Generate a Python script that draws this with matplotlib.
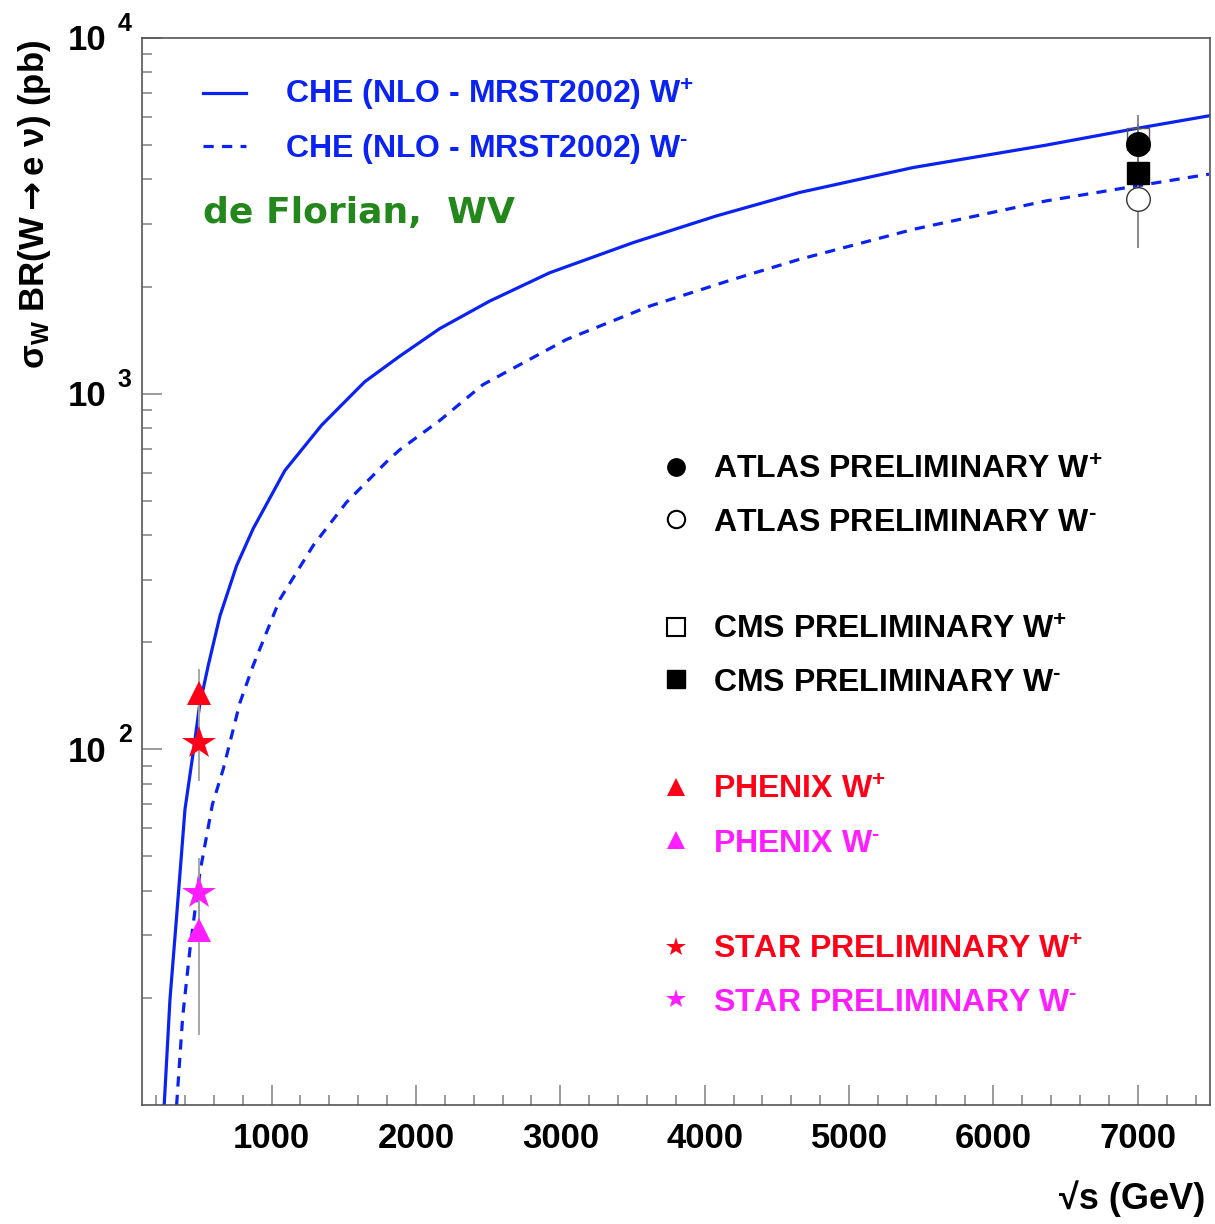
import matplotlib
matplotlib.use("Agg")
import matplotlib.pyplot as plt
import numpy as np

# ---------------------------------------------------------------- data
# theory curves (CHE, NLO - MRST2002), sqrt(s) in GeV, sigma*BR in pb
che_wp_sqrt_s = [256, 296, 342, 400, 460, 500, 561, 642, 757, 872, 1092, 1346,
                 1645, 1887, 2164, 2510, 2926, 3503, 4079, 4654, 5445, 6363,
                 6990, 7493]
che_wp_xsec = [10.0, 19.8, 33.9, 67.8, 100, 132, 172, 237, 328, 417, 608, 815,
               1080, 1274, 1523, 1820, 2187, 2657, 3158, 3675, 4323, 4995,
               5566, 6040]

che_wm_sqrt_s = [342, 384, 434, 503, 590, 665, 780, 872, 1057, 1288, 1519,
                 1796, 1887, 2164, 2464, 3041, 3618, 4194, 4654, 5445, 6363,
                 6990, 7493]
che_wm_xsec = [10.0, 17.7, 27.3, 45, 70, 88, 135, 172, 264, 374, 495,
               643, 695, 840, 1060, 1419, 1762, 2094, 2384, 2897, 3481,
               3835, 4140]

# measurements
rhic_sqrt_s = 500
lhc_sqrt_s = 7000
phenix_wp, phenix_wp_err = 144, 24
phenix_wm, phenix_wm_err = 31.1, 15.4
star_wp, star_wp_err = 104.4, 23
star_wm, star_wm_err = 39.5, 10
atlas_wp, atlas_wp_err = 5030, 700
atlas_wm, atlas_wm_err = 3520, 960
cms_wp, cms_wp_err = 5190, 880
cms_wm, cms_wm_err = 4160, 700

x_major = [1000, 2000, 3000, 4000, 5000, 6000, 7000]
y_decades = [100, 1000, 10000]

# ---------------------------------------------------------------- style
plt.rcParams['font.family'] = ['Liberation Sans', 'DejaVu Sans']
plt.rcParams['font.weight'] = 'bold'
plt.rcParams['mathtext.fontset'] = 'custom'
plt.rcParams['mathtext.rm'] = 'Liberation Sans:bold'
plt.rcParams['mathtext.bf'] = 'Liberation Sans:bold'
plt.rcParams['mathtext.it'] = 'Liberation Sans:bold'
plt.rcParams['mathtext.sf'] = 'DejaVu Sans'

BLUE = '#0a22f2'
RED = '#ff0018'
MAGENTA = '#ff1eff'
GREEN = '#23871b'
GREY = '#a0a0a0'
FRAME = '#555555'

PLUS = r'$^{\mathbf{+}}$'
MINUS = r'$^{\text{-}}$'

fig = plt.figure(figsize=(12.15, 12.24), dpi=100, facecolor='white')
ax = fig.add_axes([0.1166, 0.0972, 0.8793, 0.8718])

# ---------------------------------------------------------------- curves
ax.plot(che_wp_sqrt_s, che_wp_xsec, color=BLUE, lw=2.3, zorder=2)
ax.plot(che_wm_sqrt_s, che_wm_xsec, color=BLUE, lw=2.3, ls=(0, (3.2, 2.6)),
        zorder=2)

# ---------------------------------------------------------------- points
ekw = dict(fmt='none', ecolor=GREY, elinewidth=1.3, capsize=0, zorder=3)
ax.errorbar([rhic_sqrt_s] * 4, [phenix_wp, star_wp, star_wm, phenix_wm],
            yerr=[phenix_wp_err, star_wp_err, star_wm_err, phenix_wm_err], **ekw)
ax.errorbar([lhc_sqrt_s] * 4, [cms_wp, atlas_wp, cms_wm, atlas_wm],
            yerr=[cms_wp_err, atlas_wp_err, cms_wm_err, atlas_wm_err],
            ecolor='#777777', fmt='none', elinewidth=1.2, capsize=0, zorder=3)

ax.plot(lhc_sqrt_s, cms_wp, 's', ms=16.5, mfc='none', mec='#555555', mew=1.0, zorder=4)
ax.plot(lhc_sqrt_s, atlas_wp, 'o', ms=17, color='black', zorder=5)
ax.plot(lhc_sqrt_s, cms_wm, 's', ms=16.5, color='black', zorder=5)
ax.plot(lhc_sqrt_s, atlas_wm, 'o', ms=17, mfc='white', mec='#333333', mew=1.0, zorder=5)

ax.plot(rhic_sqrt_s, phenix_wp, '^', ms=17, color=RED, mew=0, zorder=5)
ax.plot(rhic_sqrt_s, star_wp, '*', ms=25, color=RED, mew=0, zorder=5)
ax.plot(rhic_sqrt_s, star_wm, '*', ms=25, color=MAGENTA, mew=0, zorder=5)
ax.plot(rhic_sqrt_s, phenix_wm, '^', ms=17, color=MAGENTA, mew=0, zorder=5)

# ---------------------------------------------------------------- axes
ax.set_yscale('log')
ax.set_xlim(100, 7500)
ax.set_ylim(10, 10000)

ax.set_xticks(x_major)
ax.set_xticks(np.arange(200, 7500, 200), minor=True)
ax.set_xticklabels([str(v) for v in x_major])
ax.set_yticks(y_decades)
ax.yaxis.set_major_formatter(matplotlib.ticker.NullFormatter())
ax.yaxis.set_minor_locator(matplotlib.ticker.LogLocator(base=10, subs=np.arange(2, 10)))
ax.yaxis.set_minor_formatter(matplotlib.ticker.NullFormatter())

ax.tick_params(which='both', direction='in', color='#8a8a8a', width=1.2,
               top=False, right=False)
ax.tick_params(which='major', length=14.5)
ax.tick_params(which='minor', length=7.2)
ax.tick_params(axis='x', which='major', labelsize=25, pad=12)
for sp in ax.spines.values():
    sp.set_color(FRAME)
    sp.set_linewidth(1.2)

# y tick labels in ROOT style: "10" with exponent
for v in y_decades:
    ax.annotate('10', xy=(0, v), xycoords=('axes fraction', 'data'),
                xytext=(-35, -12.5), textcoords='offset pixels',
                ha='right', va='baseline', fontsize=25, fontweight='bold')
    ax.annotate(str(int(np.log10(v))), xy=(0, v), xycoords=('axes fraction', 'data'),
                xytext=(-24, 7), textcoords='offset pixels',
                ha='left', va='baseline', fontsize=18, fontweight='bold')

ax.text(-0.0999, 0.998, r'σ$_{\mathbf{W}}$ BR(W$\mathsf{\rightarrow}$e ν) (pb)',
        transform=ax.transAxes, rotation=90, ha='center', va='top',
        fontsize=25, fontweight='bold')
ax.text(0.9953, -0.088, '√s (GeV)', transform=ax.transAxes,
        ha='right', va='center', fontsize=26, fontweight='bold')

# ---------------------------------------------------------------- legends
leg_size = 23
ax.plot([0.0574, 0.0976], [0.9484, 0.9484], transform=ax.transAxes,
        color=BLUE, lw=2.3)
ax.plot([0.0574, 0.0976], [0.8988, 0.8988], transform=ax.transAxes,
        color=BLUE, lw=2.3, ls=(0, (3.2, 2.6)))
ax.text(0.1341, 0.9381, 'CHE (NLO - MRST2002) W' + PLUS, transform=ax.transAxes,
        color=BLUE, fontsize=leg_size, va='baseline')
ax.text(0.1341, 0.8885, 'CHE (NLO - MRST2002) W' + MINUS, transform=ax.transAxes,
        color=BLUE, fontsize=leg_size, va='baseline')
ax.text(0.0571, 0.8266, 'de Florian,  WV', transform=ax.transAxes,
        color=GREEN, fontsize=26, va='baseline', family='DejaVu Sans',
        fontweight='bold')

entries = [
    ('ATLAS PRELIMINARY W' + PLUS, 'black', dict(marker='o', color='black'), 0.5867),
    ('ATLAS PRELIMINARY W' + MINUS, 'black', dict(marker='o', mfc='white', mec='black', mew=1.5), 0.5380),
    ('CMS PRELIMINARY W' + PLUS, 'black', dict(marker='s', mfc='white', mec='black', mew=1.5), 0.4367),
    ('CMS PRELIMINARY W' + MINUS, 'black', dict(marker='s', color='black'), 0.3880),
    ('PHENIX W' + PLUS, RED, dict(marker='^', color=RED, mew=0), 0.2868),
    ('PHENIX W' + MINUS, MAGENTA, dict(marker='^', color=MAGENTA, mew=0), 0.2371),
    ('STAR PRELIMINARY W' + PLUS, RED, dict(marker='*', color=RED, mew=0), 0.1368),
    ('STAR PRELIMINARY W' + MINUS, MAGENTA, dict(marker='*', color=MAGENTA, mew=0), 0.0881),
]
for label, tcolor, mkw, yb in entries:
    ms = 15 if mkw['marker'] == '*' else 12.5
    ax.plot([0.5001], [yb + 0.0112], transform=ax.transAxes, ls='none', ms=ms, **mkw)
    ax.text(0.5348, yb, label, transform=ax.transAxes, color=tcolor,
            fontsize=leg_size, va='baseline')

fig.savefig('out.png', dpi=100, facecolor='white')
